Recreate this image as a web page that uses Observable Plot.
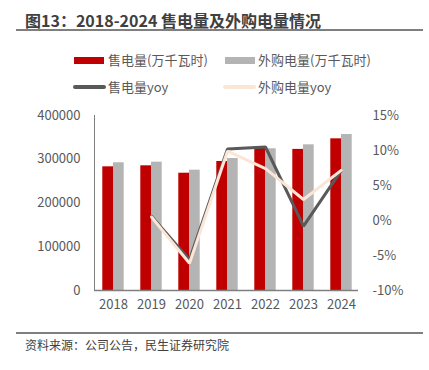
<!DOCTYPE html>
<html>
<head>
<meta charset="utf-8">
<script src="https://cdn.jsdelivr.net/npm/d3@7"></script>
<script src="https://cdn.jsdelivr.net/npm/@observablehq/plot@0.6"></script>
<style>
  body { margin: 0; background: #fff; }
  #wrap { position: relative; width: 429px; height: 370px; font-family: "Noto Sans CJK SC", "Noto Sans", sans-serif; color: #595959; overflow: hidden; }
  .abs { position: absolute; white-space: nowrap; }
  #title { left: 25px; top: 8px; font-size: 16px; font-weight: bold; color: #404040; line-height: 24px; }
  .hr { left: 16px; width: 407px; height: 2px; background: #7f7f7f; }
  .lg { font-size: 13px; line-height: 16px; color: #595959; }
  .sw { position: absolute; }
  #caption { left: 25px; top: 337px; font-size: 12px; line-height: 16px; color: #404040; }
  #chart { position: absolute; left: 0; top: 100px; }
</style>
</head>
<body>
<div id="wrap">
  <div id="title" class="abs">图13：2018-2024 售电量及外购电量情况</div>
  <div class="abs hr" style="top:29px"></div>
  <div id="legend"></div>
  <div id="chart"></div>
  <div class="abs hr" style="top:332px"></div>
  <div id="caption" class="abs">资料来源：公司公告，民生证券研究院</div>
</div>
<script>
const years = ["2018", "2019", "2020", "2021", "2022", "2023", "2024"];
const sales = [282700, 285000, 268100, 294900, 325000, 322500, 346700];
const purchased = [291900, 293300, 275000, 301700, 323900, 333000, 356600];
const salesYoy = [null, 0.6, -5.6, 10.2, 10.5, -0.8, 7.2];
const purchasedYoy = [null, 0.5, -6.1, 9.9, 7.4, 3.0, 7.2];
const leftTicks = [0, 100000, 200000, 300000, 400000];
const rightTicks = [-10, -5, 0, 5, 10, 15];

const seriesNames = ["售电量(万千瓦时)", "外购电量(万千瓦时)", "售电量yoy", "外购电量yoy"];
const colors = ["#C00000", "#B4B4B4", "#595959", "#FBE5D6"];

// map percent onto the left value scale (right axis: -10%..15% ↔ 0..400000)
const pctToY = p => (p + 10) / 25 * 400000;

const barTable = years.map((y, i) => ({year: y, sales: sales[i], purchased: purchased[i]}));
const yoyTable = years.map((y, i) => ({year: y, s: salesYoy[i], p: purchasedYoy[i]})).filter(d => d.s != null);

const W = 429, H = 220;
const mL = 94, mR = 69;
const step = (W - mL - mR) / years.length;
const barW = 10.7;
const inset = step / 2 - barW;

const chart = Plot.plot({
  width: W,
  height: H,
  marginLeft: mL,
  marginRight: mR,
  marginTop: 15,
  marginBottom: 30,
  style: {fontFamily: '"Noto Sans CJK SC", "Noto Sans", sans-serif', fontSize: "13px", color: "#595959", background: "#fff"},
  x: {type: "band", domain: years, padding: 0},
  y: {domain: [0, 400000]},
  marks: [
    Plot.barY(barTable, {x: "year", y: "sales", fill: colors[0], insetLeft: inset, insetRight: step / 2}),
    Plot.barY(barTable, {x: "year", y: "purchased", fill: colors[1], insetLeft: step / 2, insetRight: inset}),
    Plot.line(yoyTable, {x: "year", y: d => pctToY(d.s), stroke: colors[2], strokeWidth: 3, strokeLinejoin: "miter"}),
    Plot.line(yoyTable, {x: "year", y: d => pctToY(d.p), stroke: colors[3], strokeWidth: 3, strokeLinejoin: "miter"}),
    Plot.frame({anchor: "left", stroke: "#7f7f7f", strokeWidth: 1}),
    Plot.ruleY([0], {stroke: "#7f7f7f", strokeWidth: 1.5, insetRight: 2}),
    Plot.axisY({ticks: leftTicks, tickSize: 0, tickPadding: 14, tickFormat: d => String(d), fill: "#595959", label: null}),
    Plot.axisY({anchor: "right", ticks: rightTicks.map(pctToY), tickSize: 0, tickPadding: 12,
      tickFormat: (d, i) => rightTicks[i] + "%", fill: "#595959", label: null}),
    Plot.axisX({tickSize: 0, tickPadding: 9, fill: "#595959", label: null})
  ]
});
document.getElementById("chart").appendChild(chart);

// legend
const legend = document.getElementById("legend");
const items = [
  {x: 74, y: 60, tx: 108, kind: "bar"},
  {x: 225, y: 60, tx: 258, kind: "bar"},
  {x: 73, y: 87, tx: 108, kind: "line"},
  {x: 223, y: 87, tx: 258, kind: "line"}
];
items.forEach((it, i) => {
  const sw = document.createElement("div");
  sw.className = "sw";
  const w = it.kind === "bar" ? 30 : 33;
  const h = it.kind === "bar" ? 7 : 4;
  sw.style.cssText = `left:${it.x}px;top:${it.y - h / 2}px;width:${w}px;height:${h}px;background:${colors[i]};border-radius:${it.kind === "line" ? 2 : 0}px`;
  legend.appendChild(sw);
  const t = document.createElement("div");
  t.className = "abs lg";
  t.style.left = it.tx + "px";
  t.style.top = (it.y - 8.5) + "px";
  t.textContent = seriesNames[i];
  legend.appendChild(t);
});
</script>
</body>
</html>
